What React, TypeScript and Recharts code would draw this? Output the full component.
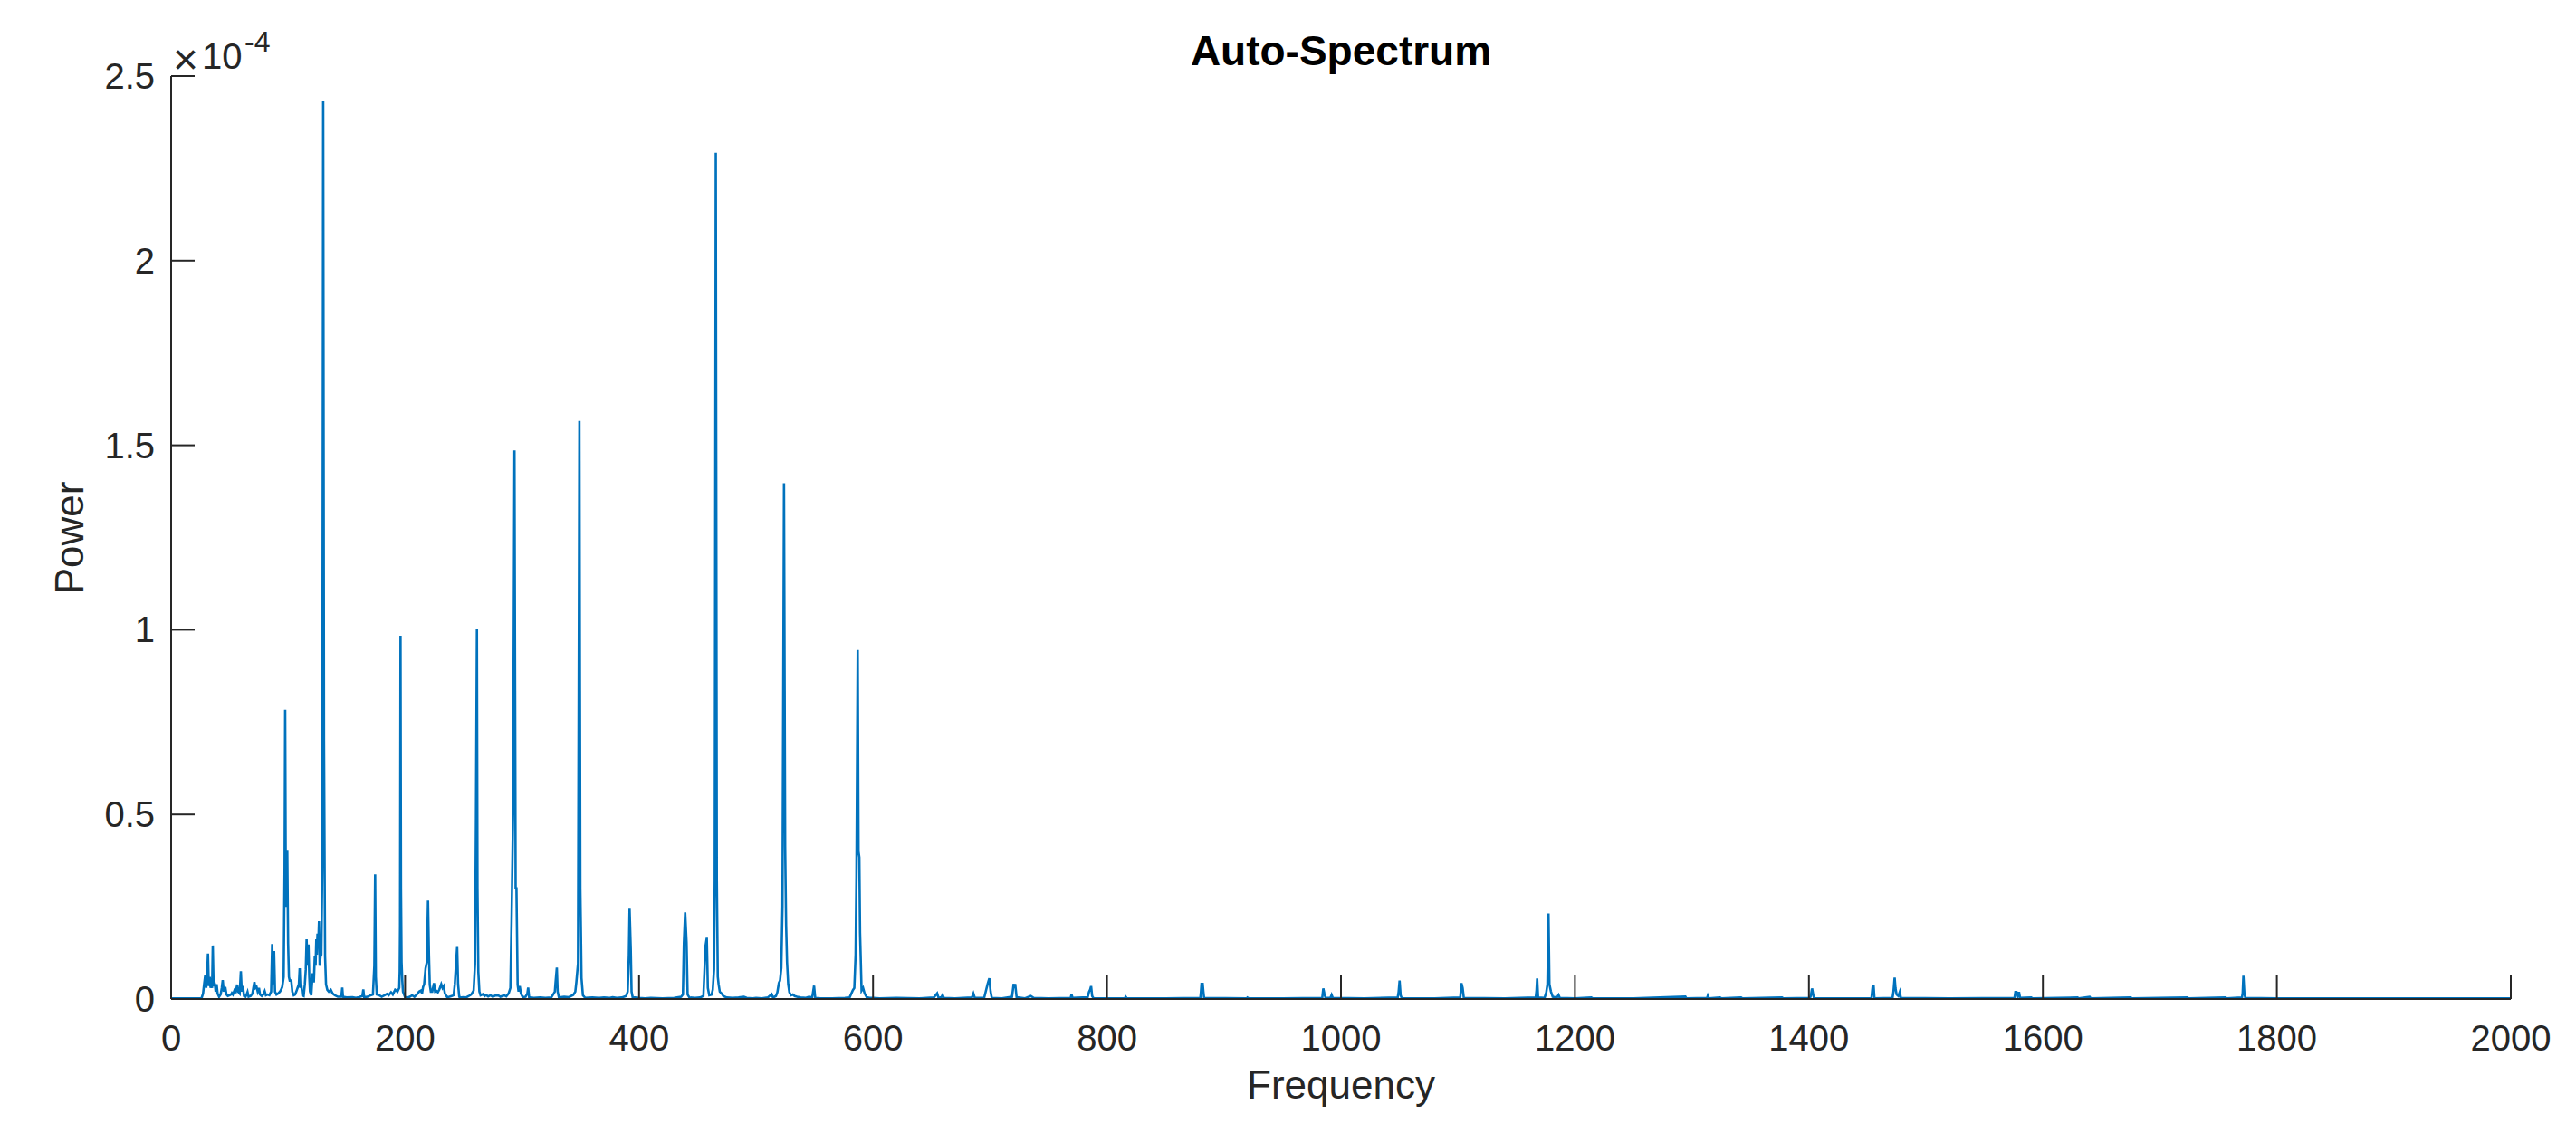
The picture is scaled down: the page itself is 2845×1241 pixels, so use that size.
import React from "react";
import { LineChart, Line, XAxis, YAxis } from "recharts";

// Power values are in units of 1e-4 (axis exponent ×10^-4)
// [frequency (Hz), power]
const lowBand: [number, number][] = [
  [0, 0.002], [26, 0.002], [27.3, 0.015], [28.2, 0.04], [29.2, 0.065], [30, 0.03], [30.7, 0.06],
  [31.5, 0.123], [32.2, 0.035], [33, 0.06], [33.7, 0.03], [34.3, 0.05], [35, 0.03], [35.6, 0.145],
  [36.3, 0.035], [37, 0.045], [37.4, 0.04], [38.1, 0.02], [38.9, 0.04], [39.7, 0.015], [41, 0.006],
  [42.3, 0.012], [43.3, 0.03], [44.1, 0.051], [45, 0.02], [45.8, 0.03], [46.4, 0.03], [47.3, 0.012],
  [48.5, 0.008], [50, 0.01], [51.2, 0.012], [51.9, 0.016], [52.8, 0.012], [54.2, 0.024], [55.3, 0.02],
  [56.5, 0.039], [57.3, 0.02], [58.6, 0.015], [59.6, 0.075], [60.4, 0.02], [61.4, 0.035], [62.3, 0.008],
  [63.6, 0.006], [64.5, 0.012], [65.3, 0.019], [66.2, 0.006], [68, 0.008], [69.5, 0.015], [70.3, 0.03],
  [71.2, 0.046], [72, 0.03], [73, 0.033], [74, 0.02], [75.1, 0.03], [76, 0.012], [77.5, 0.008],
  [78.8, 0.012], [80, 0.021], [81, 0.01], [82.5, 0.012], [84, 0.01], [85.5, 0.02], [86.4, 0.149],
  [87.1, 0.04], [88, 0.13], [88.8, 0.02], [90, 0.012], [91.5, 0.015], [93, 0.02], [94, 0.025],
  [95, 0.033], [96.2, 0.06], [97, 0.35], [97.5, 0.783], [98.1, 0.25], [98.7, 0.3], [99.3, 0.402],
  [100, 0.15], [100.7, 0.06], [101.4, 0.05], [102.7, 0.05], [103.6, 0.02], [104.8, 0.01], [106, 0.012],
  [107, 0.02], [108.1, 0.03], [109.2, 0.04], [109.9, 0.083], [110.5, 0.03], [111.2, 0.04], [112.2, 0.01],
  [113.3, 0.008], [114.3, 0.04], [115.1, 0.08], [115.8, 0.162], [116.6, 0.09], [117.4, 0.148],
  [118.1, 0.06], [118.7, 0.02], [119.8, 0.01], [121, 0.07], [122, 0.045], [122.8, 0.115], [123.5, 0.09],
  [124.1, 0.162], [124.6, 0.12], [125.1, 0.177], [125.7, 0.14], [126.4, 0.211], [127, 0.09],
  [127.7, 0.115], [128.4, 0.12], [129.2, 0.35], [130, 2.434], [130.7, 0.7], [131.6, 0.115],
  [132.4, 0.04], [133.5, 0.025], [134.8, 0.02], [136.5, 0.025], [138, 0.015], [140, 0.01],
  [142.5, 0.006], [145, 0.006], [145.8, 0.015], [146.3, 0.031], [146.9, 0.006], [150, 0.004],
  [155, 0.005], [158, 0.003], [160.5, 0.005], [163.5, 0.008], [164.3, 0.026], [165, 0.005],
  [168, 0.006], [170.5, 0.01], [172.5, 0.012], [173.7, 0.09], [174.4, 0.338], [175, 0.06],
  [175.8, 0.012], [178, 0.01], [180, 0.006], [182.5, 0.01], [184.5, 0.014], [186, 0.01], [188, 0.018],
  [189.5, 0.012], [191.5, 0.025], [193.5, 0.02], [195, 0.03], [195.4, 0.075], [195.7, 0.2],
  [196.1, 0.984], [196.5, 0.3], [197, 0.1], [197.6, 0.05], [198.2, 0.02], [200, 0.005], [202, 0.004],
  [204, 0.006], [206, 0.01], [208, 0.006], [210, 0.012], [212, 0.02], [213.6, 0.023], [214.5, 0.015],
  [215.4, 0.033], [216.3, 0.04], [217.5, 0.083], [218.6, 0.1], [219.6, 0.267], [220.4, 0.12],
  [221.1, 0.039], [222, 0.02], [223.2, 0.02], [224.7, 0.043], [225.6, 0.02], [226.8, 0.022],
  [228, 0.018], [229.2, 0.025], [230.9, 0.04], [232, 0.03], [233, 0.035], [234, 0.015], [236, 0.005],
  [238, 0.006], [239.8, 0.008], [241.5, 0.01], [242.5, 0.04], [243.3, 0.083], [244.5, 0.141],
  [245.3, 0.04], [246.3, 0.006], [248, 0.004],
];

const midBand: [number, number][] = [
  [250, 0.005], [252, 0.004], [254.5, 0.008], [256.5, 0.012], [258.6, 0.023], [259.8, 0.095],
  [260.6, 0.49], [261.4, 1.003], [261.9, 0.3], [262.6, 0.074], [263.5, 0.02], [264.5, 0.01],
  [266.5, 0.013], [268, 0.008], [269.1, 0.011], [271, 0.007], [273, 0.01], [275, 0.006], [277, 0.009],
  [279.4, 0.01], [281.5, 0.006], [284.6, 0.01], [286.5, 0.007], [288.5, 0.015], [290, 0.03],
  [291, 0.213], [292.3, 0.498], [293.5, 1.486], [294.5, 0.3], [295.2, 0.3], [296.2, 0.039], [297, 0.02],
  [298, 0.035], [299, 0.015], [300.5, 0.005], [303, 0.006], [304.5, 0.015], [305.2, 0.031], [306, 0.005],
  [310, 0.003], [315.5, 0.004], [320, 0.003], [325, 0.004], [328, 0.02], [328.6, 0.045], [329.7, 0.085],
  [330.4, 0.02], [331.5, 0.004], [336, 0.006], [340, 0.005], [343.8, 0.011], [345.5, 0.02],
  [346.4, 0.046], [347.8, 0.096], [349, 1.566], [349.8, 0.3], [350.8, 0.057], [352, 0.01], [354, 0.003],
  [360, 0.004], [365.8, 0.003], [370, 0.004], [375, 0.003], [377.4, 0.005], [381, 0.003], [385, 0.004],
  [389, 0.008], [390.3, 0.02], [391.3, 0.12], [391.9, 0.2445], [392.9, 0.137], [393.6, 0.02],
  [394.5, 0.005], [400, 0.003], [405, 0.002], [410, 0.003], [420, 0.002], [430, 0.003], [436, 0.006],
  [437.5, 0.012], [438.3, 0.15], [439.4, 0.235], [440.6, 0.154], [441.5, 0.012], [443, 0.004],
  [448, 0.003], [452, 0.004], [455, 0.008], [456.8, 0.143], [457.9, 0.166], [458.8, 0.03], [460, 0.01],
  [462, 0.012], [463, 0.025], [464.1, 0.08], [464.7, 0.32], [465.6, 2.292], [466.5, 0.322],
  [467.3, 0.06], [468, 0.04], [469, 0.02], [470.5, 0.015], [472, 0.008], [475, 0.004], [480, 0.003],
  [485, 0.004], [489.6, 0.006], [492, 0.003], [497, 0.002], [500, 0.003], [505, 0.002], [510, 0.004],
  [513.3, 0.013], [514.5, 0.004], [517, 0.008], [518.2, 0.018], [519.5, 0.043], [520.5, 0.05],
  [521.6, 0.084], [522.6, 0.25], [523.9, 1.397], [524.9, 0.412], [525.7, 0.2], [526.5, 0.1],
  [527.5, 0.04], [528.5, 0.018], [530, 0.01], [531.5, 0.012], [533, 0.008], [535, 0.006], [538, 0.004],
  [542.7, 0.003], [545.3, 0.006], [548, 0.004], [549.6, 0.036], [550.6, 0.003], [555, 0.002],
  [565, 0.002], [576, 0.003], [580, 0.004], [582.6, 0.023], [584, 0.03], [585.1, 0.12], [585.8, 0.33],
  [586.9, 0.945], [587.6, 0.4], [588.3, 0.384], [588.9, 0.18], [590.2, 0.023], [591.5, 0.03],
  [592.8, 0.015], [594.5, 0.005], [597, 0.003],
];

const highBand: [number, number][] = [
  [600, 0.003], [605.6, 0.002], [620, 0.003], [640, 0.002], [652, 0.004], [654.8, 0.0155], [656, 0.003],
  [658.5, 0.005], [659.5, 0.011], [660.5, 0.003], [670, 0.002], [684.5, 0.004], [685.8, 0.015],
  [687, 0.003], [695, 0.003], [697.9, 0.04], [699.4, 0.056], [700.5, 0.02], [701.5, 0.003], [710, 0.002],
  [718.8, 0.006], [720.1, 0.0385], [721.6, 0.038], [722.7, 0.005], [730, 0.002], [734.8, 0.008],
  [737.4, 0.003], [750, 0.002], [769, 0.003], [769.7, 0.013], [770.5, 0.003], [783.5, 0.005],
  [784.6, 0.019], [785.5, 0.025], [786.4, 0.035], [787.3, 0.008], [788.5, 0.002], [800, 0.002],
  [815.2, 0.002], [816, 0.006], [817, 0.002], [850, 0.002], [879.8, 0.003], [880.3, 0.02],
  [880.8, 0.041], [881.8, 0.041], [882.4, 0.02], [883, 0.003], [919.5, 0.002], [920, 0.004],
  [921, 0.002], [950, 0.002], [984, 0.003], [984.9, 0.0286], [985.8, 0.015], [986.8, 0.003],
  [991, 0.003], [992, 0.011], [993, 0.003], [1020, 0.002], [1048.5, 0.004], [1049.3, 0.02],
  [1050.1, 0.05], [1051, 0.01], [1052, 0.002], [1080, 0.002], [1102, 0.004], [1103, 0.043],
  [1104, 0.03], [1105, 0.003], [1140, 0.002], [1166.5, 0.004], [1167.2, 0.025], [1167.7, 0.0556],
  [1168.5, 0.004], [1174, 0.003], [1175.5, 0.018], [1176.5, 0.04], [1177.4, 0.232], [1178.2, 0.04],
  [1179.5, 0.02], [1181, 0.006], [1183, 0.005], [1184.8, 0.005], [1186, 0.011], [1187, 0.003],
  [1200, 0.002], [1214, 0.004], [1215, 0.002], [1250, 0.002], [1294.4, 0.0065], [1295.2, 0.002],
  [1313, 0.003], [1313.6, 0.009], [1314.5, 0.002], [1324, 0.004], [1325, 0.002], [1342, 0.004],
  [1343, 0.002], [1377, 0.004], [1378, 0.002], [1401, 0.003], [1401.6, 0.008], [1402.7, 0.0286],
  [1403.5, 0.015], [1404.3, 0.002], [1450, 0.002], [1453.5, 0.002], [1454.1, 0.022], [1454.6, 0.036],
  [1455.3, 0.036], [1456, 0.002], [1471.5, 0.003], [1472.3, 0.02], [1473.3, 0.058], [1474, 0.03],
  [1475, 0.012], [1476.5, 0.008], [1477.7, 0.019], [1478.6, 0.003], [1520, 0.002], [1575.8, 0.003],
  [1576.5, 0.019], [1577.5, 0.019], [1578.6, 0.008], [1579.6, 0.019], [1580.5, 0.003], [1590, 0.004],
  [1591, 0.002], [1629.7, 0.004], [1630.5, 0.002], [1640, 0.006], [1641, 0.002], [1675, 0.004],
  [1676, 0.002], [1723.4, 0.004], [1724.3, 0.002], [1756, 0.004], [1757, 0.002], [1770.2, 0.004],
  [1770.8, 0.017], [1771.4, 0.063], [1772.2, 0.017], [1773, 0.003], [1800, 0.002], [1900, 0.002],
  [2000, 0.002],
];

const X_TICKS = [0, 200, 400, 600, 800, 1000, 1200, 1400, 1600, 1800, 2000];
const Y_TICKS = [0, 0.5, 1, 1.5, 2, 2.5];

const TITLE = "Auto-Spectrum";
const X_LABEL = "Frequency";
const Y_LABEL = "Power";

const data = [...lowBand, ...midBand, ...highBand].map(([f, p]) => ({ f, p }));

const FONT = "'Liberation Sans', Arial, Helvetica, sans-serif";
const AXIS = "#262626";
const W = 2845;
const H = 1241;

function XTick(props: any) {
  const { x, y, payload } = props;
  return (
    <g>
      <line x1={x} x2={x} y1={y} y2={y - 26} stroke={AXIS} strokeWidth={2} />
      <text x={x} y={y + 57} textAnchor="middle" fontSize={40} fontFamily={FONT} fill={AXIS}>
        {payload.value}
      </text>
    </g>
  );
}

function YTick(props: any) {
  const { x, y, payload } = props;
  return (
    <g>
      <line x1={x} x2={x + 26} y1={y} y2={y} stroke={AXIS} strokeWidth={2} />
      <text x={x - 18} y={y + 14} textAnchor="end" fontSize={40} fontFamily={FONT} fill={AXIS}>
        {String(payload.value)}
      </text>
    </g>
  );
}

export default function App() {
  return (
    <div style={{ position: "absolute", left: 0, top: 0, width: W, height: H, background: "#fff" }}>
      <LineChart width={W} height={H} data={data} margin={{ top: 84, right: 72, bottom: 78, left: 89 }}>
        <XAxis
          dataKey="f"
          type="number"
          domain={[0, 2000]}
          ticks={X_TICKS}
          interval={0}
          height={60}
          tickSize={0}
          tickMargin={0}
          tickLine={false}
          axisLine={{ stroke: AXIS, strokeWidth: 2 }}
          tick={<XTick />}
        />
        <YAxis
          type="number"
          domain={[0, 2.5]}
          ticks={Y_TICKS}
          interval={0}
          width={100}
          tickSize={0}
          tickMargin={0}
          tickLine={false}
          axisLine={{ stroke: AXIS, strokeWidth: 2 }}
          tick={<YTick />}
        />
        <Line
          type="linear"
          dataKey="p"
          stroke="#0072BD"
          strokeWidth={2.6}
          dot={false}
          activeDot={false}
          isAnimationActive={false}
        />
      </LineChart>
      <svg
        width={W}
        height={H}
        style={{ position: "absolute", left: 0, top: 0, pointerEvents: "none" }}
      >
        <text x={1481} y={72} textAnchor="middle" fontSize={46} fontWeight="bold" fontFamily={FONT} fill="#000">
          {TITLE}
        </text>
        <text x={1481} y={1213} textAnchor="middle" fontSize={44} fontFamily={FONT} fill={AXIS}>
          {X_LABEL}
        </text>
        <text
          x={92}
          y={594}
          textAnchor="middle"
          fontSize={44}
          fontFamily={FONT}
          fill={AXIS}
          transform="rotate(-90 92 594)"
        >
          {Y_LABEL}
        </text>
        <text x={191} y={82} fontSize={48} fontFamily={FONT} fill={AXIS}>
          ×
        </text>
        <text x={223} y={76} fontSize={40} fontFamily={FONT} fill={AXIS}>
          10
        </text>
        <text x={270} y={57} fontSize={32} fontFamily={FONT} fill={AXIS}>
          -4
        </text>
      </svg>
    </div>
  );
}
